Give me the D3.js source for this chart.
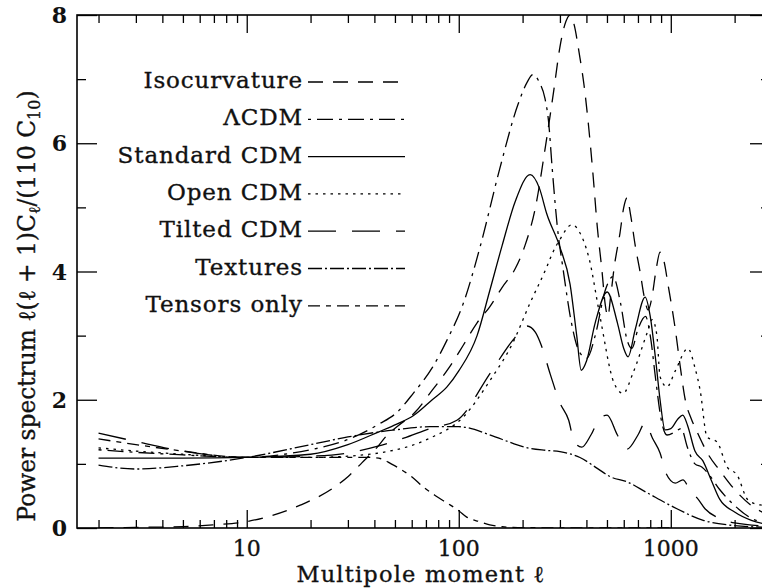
<!DOCTYPE html>
<html>
<head>
<meta charset="utf-8">
<script src="https://cdn.jsdelivr.net/npm/d3@7"></script>
<style>
html,body{margin:0;padding:0;background:#fff;}
svg{display:block;}
text{font-family:"DejaVu Serif",serif;fill:#111;}
.heavy{stroke:#111;stroke-width:0.35px;}
</style>
</head>
<body>
<svg id="chart" width="762" height="588"></svg>
<script>
// ---- data ----
const seriesNames = ["Isocurvature","\u039BCDM","Standard CDM","Open CDM","Tilted CDM","Textures","Tensors only"];

const isoL = [2,3,5,7,10,13,18,26,30,35,41,46,52,62,75,90,105,122,140,160,185,205,230,255,280,300,320,335,350,370,390,410,430,450,474,490,505,520,540,576,600,622,645,680,716,750,782,815,850,890,930,970,1050,1110,1170,1250,1330,1420,1500,1700,2000,2400,2900];
const isoV = [0.0,0.01,0.02,0.05,0.1,0.19,0.36,0.64,0.8,1.02,1.25,1.45,1.6,1.8,2.15,2.5,2.85,3.2,3.45,3.75,4.05,4.4,5.0,5.9,6.8,7.5,7.9,8.0,7.85,7.4,6.9,6.25,5.5,4.7,4.0,3.5,3.3,3.6,4.05,4.6,5.0,5.15,4.9,4.4,4.0,3.6,3.4,3.6,4.0,4.3,4.15,3.8,3.1,2.5,2.0,1.7,1.5,1.3,1.15,0.9,0.6,0.35,0.2];

const lcdmL = [2,3,5,10,15,20,30,42,51,61,75,88,105,126,156,190,210,224,240,255,265,276,291,311,340,370,402,440,490,534,580,620,655,700,760,800,850,900,960,1050,1120,1200,1300,1400,1500,1700,2000,2400,2900];
const lcdmV = [1.22,1.18,1.14,1.1,1.15,1.22,1.38,1.62,1.8,2.1,2.5,2.93,3.5,4.38,5.6,6.6,6.95,7.07,6.95,6.7,6.35,5.6,4.73,4.02,3.2,2.75,2.65,3.0,3.7,3.92,3.5,2.95,2.8,3.1,3.3,3.0,2.3,1.7,1.45,1.5,1.55,1.25,1.0,0.95,0.85,0.6,0.35,0.15,0.07];

const scdmL = [2,3,5,10,20,30,42,51,61,75,88,100,122,140,160,185,217,240,260,300,335,360,378,400,440,501,560,600,629,680,757,800,850,890,940,1000,1080,1139,1200,1300,1415,1550,1700,2000,2400,2900];
const scdmV = [1.09,1.09,1.09,1.1,1.15,1.3,1.5,1.62,1.75,2.0,2.2,2.45,3.0,3.7,4.4,5.1,5.51,5.3,4.9,4.38,3.8,3.0,2.46,2.6,3.2,3.68,3.2,2.8,2.67,3.1,3.6,3.3,2.6,2.0,1.53,1.55,1.7,1.76,1.6,1.2,1.05,0.75,0.45,0.25,0.12,0.05];

const ocdmL = [2,3,5,10,20,30,42,55,73,105,141,180,217,260,277,300,342,373,412,464,540,596,664,773,817,860,890,960,1050,1205,1300,1375,1483,1653,1845,2052,2309,2637,2900];
const ocdmV = [1.25,1.2,1.15,1.1,1.1,1.12,1.17,1.25,1.4,1.73,2.31,2.89,3.51,4.07,4.29,4.5,4.73,4.6,4.2,3.29,2.26,2.1,2.42,3.04,3.25,3.0,2.36,2.2,2.45,2.8,2.5,2.15,1.42,1.34,0.95,0.83,0.44,0.36,0.35];

const tcdmL = [2,3,5,10,20,30,42,55,73,98,141,180,200,210,230,245,270,300,330,350,380,420,460,501,560,622,700,757,820,890,950,1050,1140,1250,1330,1450,1700,2000,2900];
const tcdmV = [1.48,1.35,1.2,1.1,1.12,1.17,1.28,1.4,1.55,1.68,2.42,2.93,3.1,3.15,3.05,2.85,2.4,1.95,1.68,1.35,1.26,1.45,1.7,1.76,1.45,1.23,1.45,1.64,1.4,1.17,0.85,0.7,0.75,0.55,0.47,0.3,0.15,0.08,0.03];

const textL = [2,3,5,10,20,30,50,73,100,141,180,217,260,300,373,450,518,622,773,1026,1422,1845,2900];
const textV = [0.98,0.92,0.97,1.1,1.3,1.42,1.53,1.58,1.58,1.45,1.32,1.24,1.21,1.19,1.1,0.93,0.8,0.72,0.55,0.33,0.12,0.05,0.01];

const tensL = [2,3,5,10,16,25,32,38,43,48,53,60,68,78,88,100,109,125,140,160,180,220,300,600,1000];
const tensV = [1.39,1.3,1.2,1.1,1.1,1.1,1.1,1.1,1.08,1.0,0.92,0.8,0.64,0.5,0.39,0.27,0.17,0.1,0.05,0.02,0.01,0.005,0.0,0.0,0.0];

const seriesL = [isoL,lcdmL,scdmL,ocdmL,tcdmL,textL,tensL];
const seriesV = [isoV,lcdmV,scdmV,ocdmV,tcdmV,textV,tensV];
const dashes = ["15,10","3,6,16,6",null,"2.5,5","28,16","14,3,2,3","12,6,5,6"];

const xMajor = [10,100,1000];
const xMinor = [2,3,4,5,6,7,8,9,20,30,40,50,60,70,80,90,200,300,400,500,600,700,800,900,2000];
const yMajor = [0,2,4,6,8];
const yMinor = [1,3,5,7];

// ---- layout ----
const L = 77, R = 770, T = 15, B = 528;
const svg = d3.select("#chart");
const x = d3.scaleLog().domain([1.583, 2937]).range([L, R]);
const y = d3.scaleLinear().domain([0, 8]).range([B, T]);

svg.append("defs").append("clipPath").attr("id","clip")
  .append("rect").attr("x",L).attr("y",T).attr("width",R-L).attr("height",B-T);

// curves
const line = d3.line().x(d=>x(d[0])).y(d=>y(d[1])).curve(d3.curveMonotoneX);
const gC = svg.append("g").attr("clip-path","url(#clip)");
seriesL.forEach((ls,i)=>{
  const pts = ls.map((l,j)=>[l, seriesV[i][j]]);
  gC.append("path").attr("d", line(pts)).attr("fill","none")
    .attr("stroke","#000").attr("stroke-width",1.3)
    .attr("stroke-dasharray", dashes[i]);
});

// frame
svg.append("rect").attr("x",L).attr("y",T).attr("width",R-L).attr("height",B-T)
  .attr("fill","none").attr("stroke","#000").attr("stroke-width",1.6);

// axes with inward ticks
const axB = d3.axisBottom(x).tickValues(xMajor).tickSize(-18).tickFormat("");
const axBm = d3.axisBottom(x).tickValues(xMinor).tickSize(-8).tickFormat("");
const axT = d3.axisTop(x).tickValues(xMajor).tickSize(-18).tickFormat("");
const axTm = d3.axisTop(x).tickValues(xMinor).tickSize(-8).tickFormat("");
const axL = d3.axisLeft(y).tickValues(yMajor).tickSize(-20).tickFormat("");
const axLm = d3.axisLeft(y).tickValues(yMinor).tickSize(-9).tickFormat("");
const axR = d3.axisRight(y).tickValues(yMajor).tickSize(-20).tickFormat("");
const axRm = d3.axisRight(y).tickValues(yMinor).tickSize(-9).tickFormat("");
[[axB,`translate(0,${B})`],[axBm,`translate(0,${B})`],[axT,`translate(0,${T})`],[axTm,`translate(0,${T})`],
 [axL,`translate(${L},0)`],[axLm,`translate(${L},0)`],[axR,`translate(${R},0)`],[axRm,`translate(${R},0)`]]
 .forEach(([a,t])=>{
   const g = svg.append("g").attr("transform",t).call(a);
   g.select(".domain").remove();
   g.selectAll("line").attr("stroke","#000").attr("stroke-width",1.3);
 });

// tick labels
svg.append("g").selectAll("text").data(xMajor).join("text")
  .attr("class","heavy")
  .attr("x",d=>x(d)).attr("y",556).attr("text-anchor","middle")
  .attr("font-size",22).text(d=>d);
svg.append("g").selectAll("text").data(yMajor).join("text")
  .attr("x",67).attr("y",d=>y(d)+8).attr("text-anchor","end")
  .attr("font-size",22).attr("font-weight","bold").text(d=>d);

// axis titles
svg.append("text").attr("class","heavy").attr("x",421).attr("y",582).attr("text-anchor","middle")
  .attr("font-size",22.5).attr("letter-spacing",1.2).text("Multipole moment \u2113");
const yt = svg.append("text").attr("class","heavy").attr("transform","translate(35,306) rotate(-90)")
  .attr("text-anchor","middle").attr("font-size",23.3);
yt.append("tspan").text("Power spectrum \u2113(\u2113 + 1)C");
yt.append("tspan").attr("font-size",16).attr("dy",5).text("\u2113");
yt.append("tspan").attr("dy",-5).text("/(110 C");
yt.append("tspan").attr("font-size",16).attr("dy",5).text("10");
yt.append("tspan").attr("dy",-5).text(")");

// legend
const lg = svg.append("g");
seriesNames.forEach((n,i)=>{
  const by = 88 + i*37.3;
  lg.append("text").attr("class","heavy").attr("x",303).attr("y",by).attr("text-anchor","end")
    .attr("font-size",23).attr("letter-spacing",0.9).text(n);
  lg.append("line").attr("x1",308).attr("x2",405).attr("y1",by-6).attr("y2",by-6)
    .attr("stroke","#000").attr("stroke-width",1.3).attr("stroke-dasharray",dashes[i]);
});
</script>
</body>
</html>
